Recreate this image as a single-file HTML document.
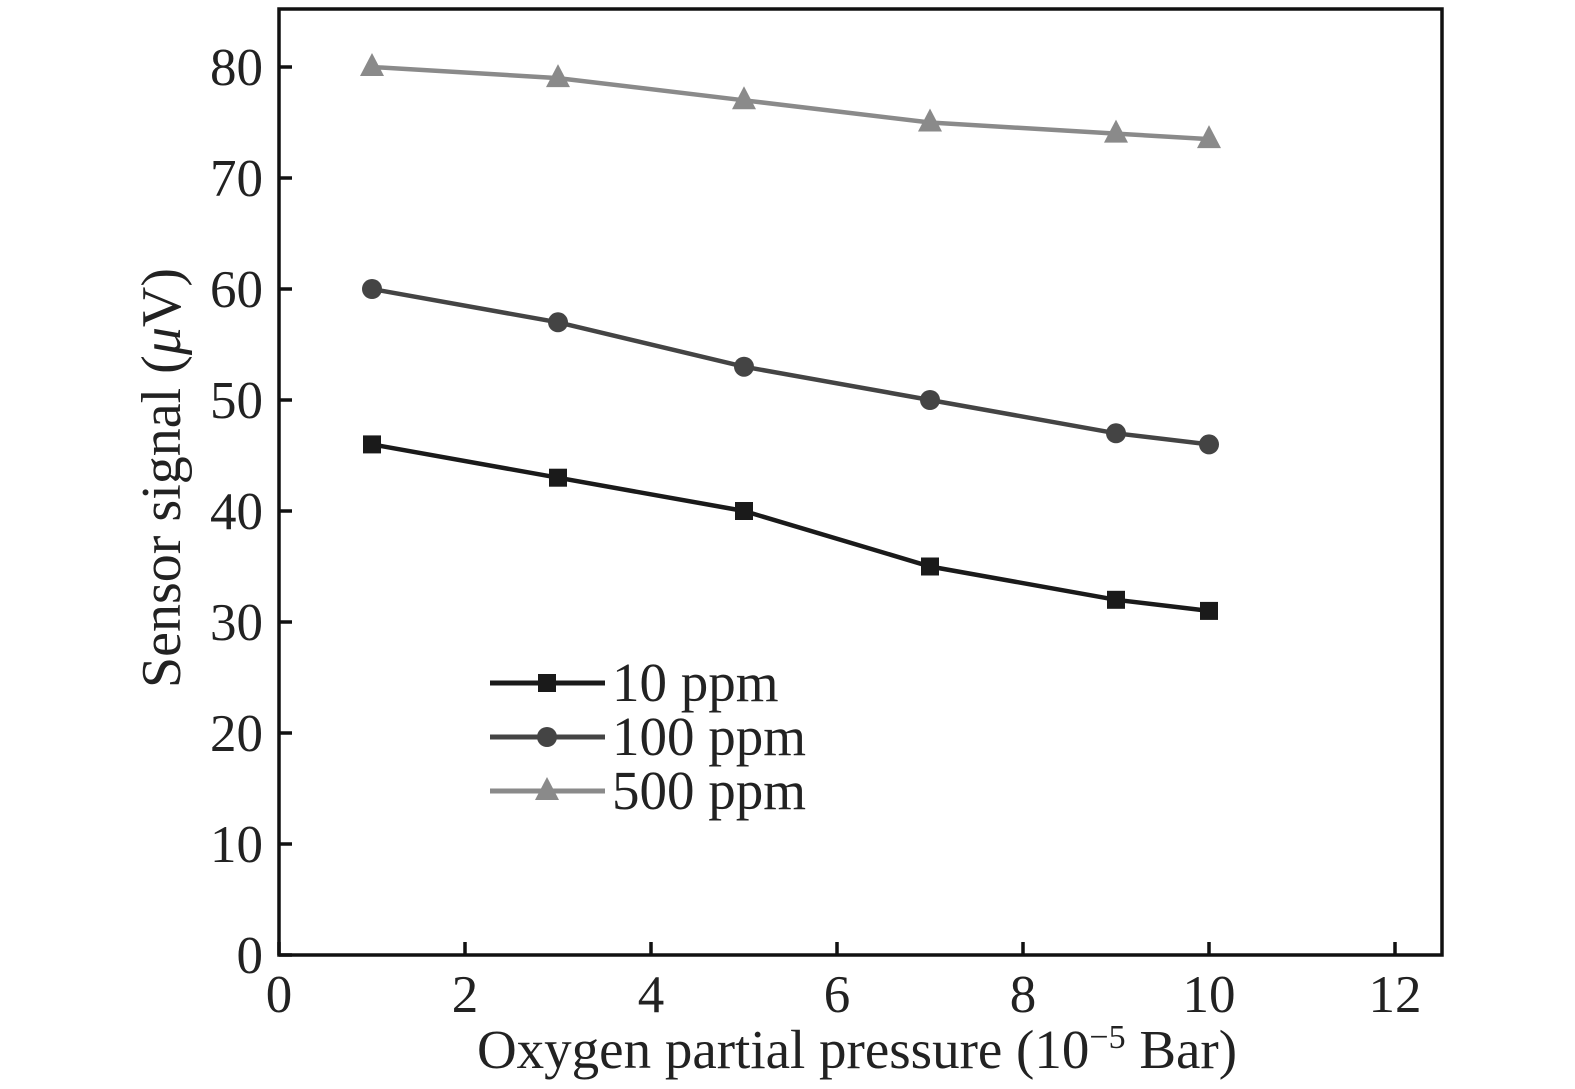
<!DOCTYPE html>
<html><head><meta charset="utf-8"><style>
html,body{margin:0;padding:0;background:#fff}
svg{display:block;font-family:"Liberation Serif",serif}
</style></head><body>
<svg width="1575" height="1089" viewBox="0 0 1575 1089">
<g id="plot"></g>
</svg>
<script>
const xValues=[1,3,5,7,9,10];
const s10=[46,43,40,35,32,31];
const s100=[60,57,53,50,47,46];
const s500=[80,79,77,75,74,73.5];
const xTicks=[0,2,4,6,8,10,12];
const yTicks=[0,10,20,30,40,50,60,70,80];
const seriesNames=["10 ppm","100 ppm","500 ppm"];
const NS="http://www.w3.org/2000/svg";
const L=279,R=1442,T=9,B=955;
const X=v=>L+v*93;
const Y=v=>B-v*11.1;
const g=document.getElementById('plot');
function mk(t,a,p){const e=document.createElementNS(NS,t);for(const k in a)e.setAttribute(k,a[k]);(p||g).appendChild(e);return e;}
let frame=mk('rect',{x:L,y:T,width:R-L,height:B-T,fill:'none',stroke:'#111','stroke-width':3.5});


xTicks.forEach(v=>{
 let t=mk('line',{x1:X(v),x2:X(v),y1:B,y2:B-13,stroke:'#111','stroke-width':3.5});
 
 
 let l=mk('text',{x:X(v),y:B+57,'font-size':53,'text-anchor':'middle',fill:'#222'});l.textContent=v;
 
 
});
yTicks.forEach(v=>{
 let t=mk('line',{x1:L,x2:L+13,y1:Y(v),y2:Y(v),stroke:'#111','stroke-width':3.5});
 
 
 let l=mk('text',{x:L-16,y:Y(v)+18,'font-size':53,'text-anchor':'end',fill:'#222'});l.textContent=v;
 
 
});
let xt=mk('text',{x:857,y:1068,'font-size':55,'text-anchor':'middle',fill:'#222'});
xt.innerHTML='Oxygen partial pressure (10<tspan dy="-20" font-size="34">−5</tspan><tspan dy="20"> Bar)</tspan>';


let yt=mk('text',{x:0,y:0,'font-size':56,'text-anchor':'middle',fill:'#222',transform:'translate(180,478) rotate(-90)'});
yt.innerHTML='Sensor signal (<tspan font-style="italic">μ</tspan>V)';


const colors=['#1a1a1a','#444','#8a8a8a'];
const data=[s10,s100,s500];
const shapes=['square','circle','triangle'];
function marker(shape,x,y,c){
 let e;
 if(shape==='square')e=mk('rect',{x:x-9,y:y-9,width:18,height:18,fill:c});
 else if(shape==='circle')e=mk('circle',{cx:x,cy:y,r:10,fill:c});
 else e=mk('polygon',{points:`${x},${y-14} ${x-12},${y+9} ${x+12},${y+9}`,fill:c});
 return e;
}
data.forEach((s,i)=>{
 let pl=mk('polyline',{points:s.map((v,j)=>X(xValues[j])+','+Y(v)).join(' '),fill:'none',stroke:colors[i],'stroke-width':4.5});
 
 
 s.forEach((v,j)=>{
  let m=marker(shapes[i],X(xValues[j]),Y(v),colors[i]);
  
  
 });
 const ly=683+i*54;
 let ll=mk('line',{x1:490,x2:605,y1:ly,y2:ly,stroke:colors[i],'stroke-width':5});
 
 
 let lm=marker(shapes[i],547,ly,colors[i]);
 
 
 let lt=mk('text',{x:612,y:ly+18,'font-size':55,fill:'#222'});lt.textContent=seriesNames[i];
 
 
});
</script>
</body></html>
